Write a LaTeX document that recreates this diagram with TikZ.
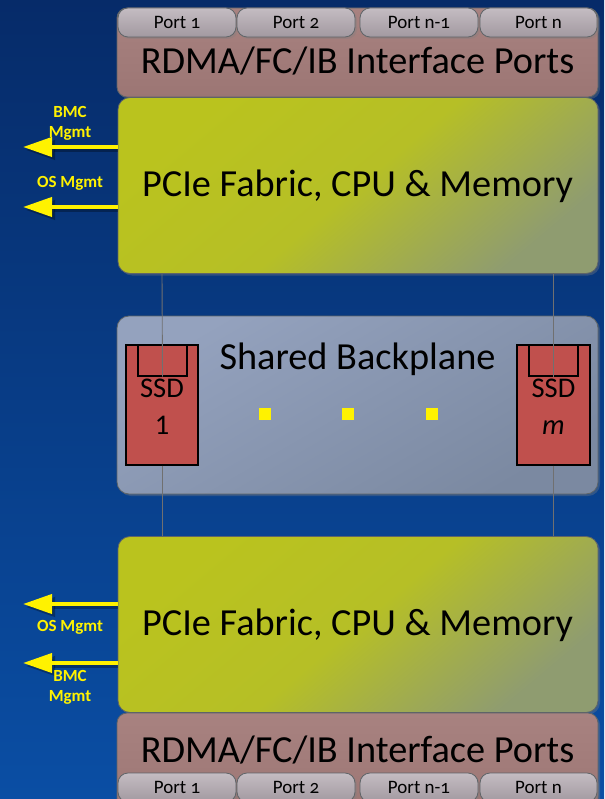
\documentclass[tikz,border=0pt]{standalone}
\usepackage{fontspec}
\setmainfont{Carlito}
\usetikzlibrary{arrows.meta,shadows,calc}
\definecolor{bgtop}{HTML}{062B69}
\definecolor{bgbot}{HTML}{0A4EA4}
\definecolor{greenA}{HTML}{BAC31E}
\definecolor{greenB}{HTML}{8F9C70}
\definecolor{rdmaA}{HTML}{A88280}
\definecolor{rdmaB}{HTML}{9C7674}
\definecolor{portA}{HTML}{C4BCC2}
\definecolor{portB}{HTML}{A299A0}
\definecolor{bpA}{HTML}{94A2BE}
\definecolor{bpB}{HTML}{7B89A1}
\definecolor{ssdred}{HTML}{C0504D}
\definecolor{edge}{HTML}{5E6468}
\definecolor{conncol}{HTML}{707070}
\tikzset{
  shd/.style={drop shadow={shadow xshift=2pt,shadow yshift=-2pt,opacity=0.35}},
  rdmabox/.style={draw=edge,line width=0.8pt,rounded corners=10pt,top color=rdmaA,bottom color=rdmaB,minimum width=481pt,inner sep=0,shd},
  greenbox/.style={draw=edge,line width=0.8pt,rounded corners=12pt,top color=greenA,bottom color=greenB,middle color=greenA!90!greenB,shading angle=40,minimum width=480pt,minimum height=176pt,inner sep=0,shd},
  bpbox/.style={draw=edge,line width=0.8pt,rounded corners=12pt,top color=bpA,bottom color=bpB,shading angle=30,minimum width=481pt,minimum height=178pt,inner sep=0,shd},
  portbox/.style={draw=edge,line width=0.8pt,rounded corners=10pt,top color=portA,bottom color=portB,minimum height=29pt,inner sep=0,font=\fontsize{19}{20}\selectfont\addfontfeatures{Numbers=OldStyle},text=black,shd},
  bigtxt/.style={font=\fontsize{38.3}{40}\selectfont,text=black,inner sep=0},
  ssdbox/.style={draw=black,line width=1.2pt,fill=ssdred,minimum height=120pt,inner sep=0},
  ssdin/.style={draw=black,line width=1.2pt,fill=ssdred,minimum height=31pt,inner sep=0},
  ssdtxt/.style={font=\fontsize{28.5}{37}\selectfont,align=center,inner sep=0,text=black},
  dotsq/.style={fill=yellow,minimum size=12pt,inner sep=0},
  conn/.style={draw=conncol,line width=0.9pt},
  mg/.style={draw=yellow,line width=4pt,-{Triangle[length=29pt,width=19pt]}},
  mgs/.style={draw=black,opacity=0.3,line width=4pt,-{Triangle[length=29pt,width=19pt]}},
  mgtxt/.style={font=\fontsize{17}{20}\selectfont\bfseries,text=yellow,align=center,inner sep=0}
}
\begin{document}
\begin{tikzpicture}[x=1pt,y=-1pt]
\shade[top color=bgtop,bottom color=bgbot] (0,0) rectangle (604,799);
\useasboundingbox (0,0) rectangle (604,799);
\clip (0,0) rectangle (604,799);

% top RDMA block
\node[rdmabox,minimum height=89pt] (rt) at (357.5,52.5) {};
\node[portbox,minimum width=118pt] (p1t) at (177,22.5) {Port 1};
\node[portbox,minimum width=118pt] (p2t) at (296,22.5) {Port 2};
\node[portbox,minimum width=118pt] (p3t) at (419,22.5) {Port n-1};
\node[portbox,minimum width=117pt] (p4t) at (538.5,22.5) {Port n};
\node[bigtxt] (rtt) at (357.5,61) {RDMA/FC/IB Interface Ports};

% top green
\node[greenbox] (gt) at (358,185.5) {};
\node[bigtxt] (gtt) at (357.5,186) {PCIe Fabric, CPU \& Memory};

% backplane
\node[bpbox] (bp) at (357.5,405) {};
\node[bigtxt] (bpt) at (357.5,359) {Shared Backplane};

% bottom green
\node[greenbox] (gb) at (358,624.5) {};
\node[bigtxt] (gbt) at (357.5,625) {PCIe Fabric, CPU \& Memory};

% bottom RDMA block
\node[rdmabox,minimum height=100pt] (rb) at (357.5,763) {};
\node[bigtxt] (rbt) at (357.5,750) {RDMA/FC/IB Interface Ports};
\node[portbox,minimum width=118pt] (p1b) at (177,787.5) {Port 1};
\node[portbox,minimum width=118pt] (p2b) at (296,787.5) {Port 2};
\node[portbox,minimum width=118pt] (p3b) at (419,787.5) {Port n-1};
\node[portbox,minimum width=117pt] (p4b) at (538.5,787.5) {Port n};

% SSDs
\node[ssdbox,minimum width=72pt] (s1) at (162,405) {};
\node[ssdin,minimum width=49pt] (s1i) at (162.5,360.5) {};
\node[ssdtxt] (s1t) at (162,406.5) {SSD\\1};
\node[ssdbox,minimum width=73pt] (sm) at (553.5,405) {};
\node[ssdin,minimum width=49pt] (smi) at (553.5,360.5) {};
\node[ssdtxt] (smt) at (553.5,406.5) {SSD\\\textit{m}};

% connectors
\draw[conn] (gt.south -| s1.north) -- (s1i.south);
\draw[conn] (s1.south) -- (gb.north -| s1.south);
\draw[conn] (gt.south -| sm.north) -- (smi.south);
\draw[conn] (sm.south) -- (gb.north -| sm.south);

% dots
\node[dotsq] (d1) at (265,414) {};
\node[dotsq] (d2) at (348,414) {};
\node[dotsq] (d3) at (432,414) {};

% management arrows
\coordinate (a1) at (23,147);
\coordinate (a2) at (23,207);
\coordinate (a3) at (23,604);
\coordinate (a4) at (23,663);
\coordinate (a1s) at (26,150);
\coordinate (a2s) at (26,210);
\coordinate (a3s) at (26,607);
\coordinate (a4s) at (26,666);
\draw[mgs] (gt.west |- a1s) -- (a1s);
\draw[mgs] (gt.west |- a2s) -- (a2s);
\draw[mgs] (gb.west |- a3s) -- (a3s);
\draw[mgs] (gb.west |- a4s) -- (a4s);
\draw[mg] (gt.west |- a1) -- (a1);
\draw[mg] (gt.west |- a2) -- (a2);
\draw[mg] (gb.west |- a3) -- (a3);
\draw[mg] (gb.west |- a4) -- (a4);
\node[mgtxt] (l1) at (70,123) {BMC\\Mgmt};
\node[mgtxt] (l2) at (70,183) {OS Mgmt};
\node[mgtxt] (l3) at (70,627) {OS Mgmt};
\node[mgtxt] (l4) at (70,687) {BMC\\Mgmt};
\end{tikzpicture}
\end{document}
